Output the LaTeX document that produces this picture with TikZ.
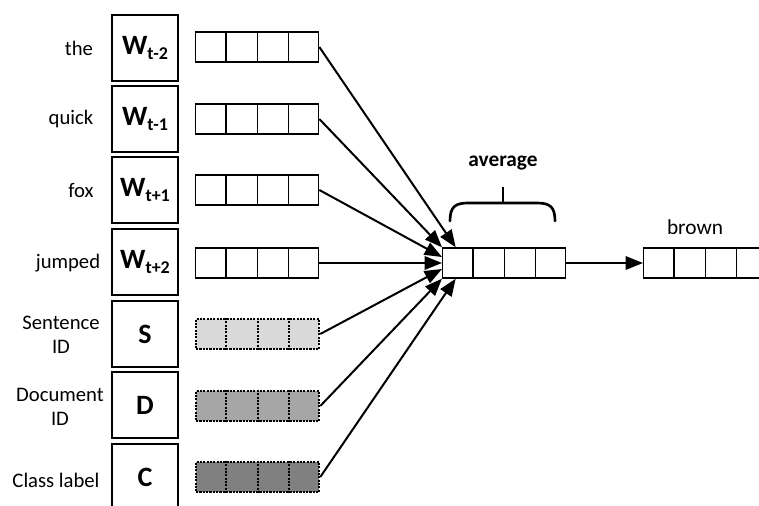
\documentclass[tikz,border=0pt]{standalone}
\usepackage{fontspec}
\setmainfont{Carlito}
\usetikzlibrary{arrows.meta,calc}
\newcommand\vecrow[4]{% name, x-left, y-center, style
  \node[vec,#4] (#1) at (#2,#3) {};
  \foreach \f in {0.25,0.5,0.75}
    \draw[#4] ($(#1.north west)!\f!(#1.north east)$) -- ($(#1.south west)!\f!(#1.south east)$);
}
\newcommand\wsub[2]{#1\raisebox{-4pt}{\fontsize{13.5}{14}\selectfont #2}}
\begin{document}
\begin{tikzpicture}[x=0.75pt,y=-0.75pt,
 wbox/.style={draw,line width=2pt,minimum width=49.5pt,minimum height=49.5pt,inner sep=0pt,font=\fontsize{21}{24}\selectfont\bfseries},
 lab/.style={font=\fontsize{15.5}{18}\selectfont,align=center,inner sep=0pt},
 vec/.style={minimum width=92.25pt,minimum height=22.5pt,inner sep=0pt,anchor=west},
 plain/.style={draw,line width=1pt},
 dotb/.style={draw,line width=1.7pt,dash pattern=on 1.6pt off 0.9pt},
 conn/.style={line width=1.5pt,-{Triangle[length=13pt,width=10pt]}},
]
\useasboundingbox (0,0) rectangle (759,506);
\clip (0,0) rectangle (759,506);

% left boxes
\node[wbox] (b1) at (145,48)  {\wsub{W}{t-2}};
\node[wbox] (b2) at (145,119) {\wsub{W}{t-1}};
\node[wbox] (b3) at (145,190) {\wsub{W}{t+1}};
\node[wbox] (b4) at (145,262) {\wsub{W}{t+2}};
\node[wbox] (b5) at (145,334) {S};
\node[wbox] (b6) at (145,405) {D};
\node[wbox] (b7) at (145,477) {C};

% labels
\node[lab] (l1) at (79,48) {the};
\node[lab] (l2) at (71,119) {quick};
\node[lab] (l3) at (81,190) {fox};
\node[lab] (l4) at (68,263) {jumped};
\node[lab] (l5) at (61,335) {Sentence\\ID};
\node[lab] (l6) at (60,407) {Document\\ID};
\node[lab] (l7) at (56,480) {Class label};

% input vectors
\vecrow{v1}{195}{47}{plain}
\vecrow{v2}{195}{119}{plain}
\vecrow{v3}{195}{190}{plain}
\vecrow{v4}{195}{263}{plain}
\vecrow{v5}{195}{334}{dotb,fill=black!15}
\vecrow{v6}{195}{406}{dotb,fill=black!35}
\vecrow{v7}{195}{477}{dotb,fill=black!50}

% average vector and output
\vecrow{avg}{442}{263}{plain}
\vecrow{out}{643}{263}{plain}

% brace and texts
\draw[line width=2pt,line cap=round] (450,221) .. controls (450,207) and (455,203) .. (468,203) -- (537,203) .. controls (550,203) and (555,207) .. (555,221);
\draw[line width=2pt] (503,203) -- (503,187);
\node[font=\fontsize{16}{18}\selectfont\bfseries] (avgt) at (503,163) {average};
\node[font=\fontsize{16}{18}\selectfont] (brt) at (695,227) {brown};

% connectors
\draw[conn] (v1.east) -- ($(avg.north west)!0.11!(avg.north east)$);
\draw[conn] (v2.east) -- (avg.north west);
\draw[conn] (v3.east) -- ($(avg.west)+(0,-6)$);
\draw[conn] (v4.east) -- (avg.west);
\draw[conn] (v5.east) -- ($(avg.west)+(0,6)$);
\draw[conn] (v6.east) -- (avg.south west);
\draw[conn] (v7.east) -- ($(avg.south west)!0.11!(avg.south east)$);
\draw[conn] (avg.east) -- (out.west);
\end{tikzpicture}
\end{document}
